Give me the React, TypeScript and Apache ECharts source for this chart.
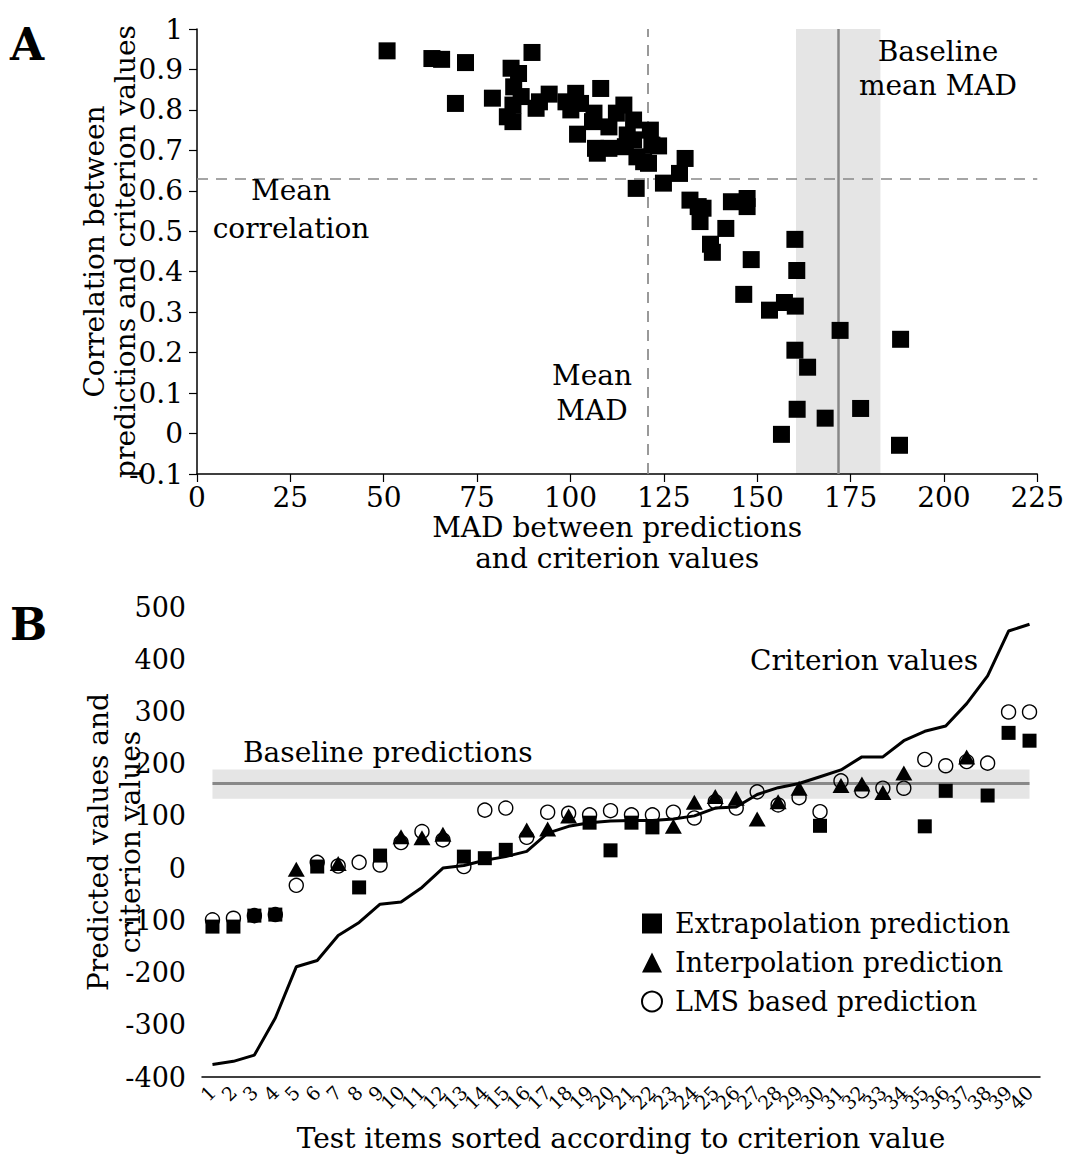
import React, { useEffect, useRef } from "react";
import * as echarts from "echarts";

// Panel A: each test item's MAD vs correlation between predictions and criterion values
const madCorrPoints: [number, number][] = [
  [50.9, 0.946], [62.9, 0.927], [65.5, 0.925], [71.9, 0.917], [69.2, 0.816],
  [79.1, 0.829], [89.7, 0.942], [84.1, 0.903], [86.1, 0.89], [84.8, 0.857],
  [86.8, 0.833], [84.6, 0.812], [83.1, 0.783], [84.6, 0.771], [90.8, 0.804],
  [91.7, 0.82], [94.3, 0.839], [98.8, 0.82], [101.4, 0.841], [100.1, 0.8],
  [102.7, 0.816], [108.1, 0.853], [106.3, 0.792], [101.9, 0.74], [105.9, 0.771],
  [106.7, 0.705], [110.3, 0.705], [107.2, 0.693], [110.3, 0.758], [112.3, 0.792],
  [114.3, 0.812], [116.9, 0.775], [115.2, 0.738], [114.7, 0.709], [116.9, 0.726],
  [117.8, 0.684], [119.6, 0.672], [121.4, 0.75], [121.8, 0.713], [123.6, 0.711],
  [120.9, 0.668], [117.6, 0.606], [124.9, 0.619], [129.2, 0.643], [130.7, 0.68],
  [132.0, 0.577], [134.2, 0.561], [135.5, 0.557], [134.7, 0.524], [143.1, 0.573],
  [147.3, 0.581], [147.3, 0.561], [141.6, 0.507], [137.5, 0.468], [138.0, 0.448],
  [148.4, 0.43], [160.1, 0.48], [160.6, 0.403], [146.4, 0.344], [157.3, 0.324],
  [160.2, 0.315], [153.3, 0.305], [172.2, 0.255], [188.4, 0.233], [160.1, 0.206],
  [163.5, 0.164], [160.7, 0.06], [177.7, 0.062], [168.2, 0.038], [156.5, -0.002],
  [188.1, -0.029],
];
const meanMad = 120.6;
const meanCorrelation = 0.629;
const baselineMeanMad = 171.7;
const baselineMadLow = 160.4;
const baselineMadHigh = 183.0;

const madTicks = { min: 0, max: 225, step: 25 };
const corrTicks = { min: -0.1, max: 1, step: 0.1 };

// Panel B: test items sorted by criterion value
const itemLabels = [
  "1", "2", "3", "4", "5", "6", "7", "8", "9", "10",
  "11", "12", "13", "14", "15", "16", "17", "18", "19", "20",
  "21", "22", "23", "24", "25", "26", "27", "28", "29", "30",
  "31", "32", "33", "34", "35", "36", "37", "38", "39", "40",
];
const criterionValues = [
  -376, -370, -358, -287, -189, -177, -129, -104, -69, -65,
  -37, 0, 5, 15, 22, 32, 67, 80, 87, 90,
  91, 91, 94, 100, 115, 117, 141, 154, 162, 175,
  188, 213, 213, 244, 262, 272, 315, 368, 454, 467,
];
const extrapolation = [
  -112, -112, -91, -89, null, 3, null, -37, 24, null,
  null, null, 22, 19, 35, null, null, null, 87, 34,
  87, 78, null, null, null, null, null, null, null, 81,
  null, null, null, null, 80, 148, null, 139, 259, 244,
];
const interpolation = [
  null, null, null, null, -2, null, 9, null, null, 60,
  58, 65, null, null, null, 73, 75, 100, null, null,
  null, null, 80, 126, 137, 134, 94, 127, 153, null,
  158, 161, 145, 182, null, null, 213, null, null, null,
];
const lmsBased = [
  -99, -96, -91, -89, -33, 11, 4, 11, 6, 49,
  70, 54, 3, 111, 115, 59, 107, 105, 102, 110,
  102, 102, 107, 96, 127, 115, 146, 121, 135, 108,
  167, 148, 153, 153, 208, 196, 204, 201, 299, 299,
];
const baselinePrediction = 162.5;
const baselinePredLow = 133;
const baselinePredHigh = 189;

const predTicks = { min: -400, max: 500, step: 100 };

const FONT = "DejaVu Serif";
const GREY = "#888888";
const BAND = "#e5e5e5";
const txt = (size: number) => ({ fontFamily: FONT, fontSize: size, color: "#000" });

const axisLine = { onZero: false, lineStyle: { color: "#000", width: 1.5 } };
const axisTick = { length: 8, lineStyle: { color: "#000", width: 1.2 } };
const solidBlack = { color: "#000", opacity: 1 };

function buildOption() {
  const dashed = { type: [11, 8] as number[], color: GREY, width: 1.7 };
  const note = (text: string, x: number, y: number, align: string, lineHeight = 34) => ({
    type: "text",
    x,
    y,
    z: 100,
    style: { text, fontFamily: FONT, fontSize: 28, lineHeight, fill: "#000", align, verticalAlign: "middle" },
  });
  return {
    animation: false,
    backgroundColor: "#fff",
    textStyle: { fontFamily: FONT },
    grid: [
      { left: 197, top: 29, width: 846, height: 445 },
      { left: 202, top: 607, width: 838, height: 470 },
    ],
    xAxis: [
      {
        gridIndex: 0,
        type: "value",
        min: madTicks.min,
        max: madTicks.max,
        interval: madTicks.step,
        name: "MAD between predictions\nand criterion values",
        nameLocation: "middle",
        nameGap: 38,
        nameMoveOverlap: false,
        nameTextStyle: { ...txt(28), lineHeight: 31 },
        axisLine,
        axisTick,
        axisLabel: { ...txt(28), margin: 9 },
        splitLine: { show: false },
      },
      {
        gridIndex: 1,
        type: "category",
        data: itemLabels,
        boundaryGap: true,
        name: "Test items sorted according to criterion value",
        nameLocation: "middle",
        nameGap: 46,
        nameMoveOverlap: false,
        nameTextStyle: { ...txt(28), lineHeight: 31 },
        axisLine,
        axisTick: { show: false },
        axisLabel: { ...txt(19), rotate: 45, interval: 0, margin: 12 },
        splitLine: { show: false },
      },
    ],
    yAxis: [
      {
        gridIndex: 0,
        type: "value",
        min: corrTicks.min,
        max: corrTicks.max,
        interval: corrTicks.step,
        name: "Correlation between\npredictions and criterion values",
        nameLocation: "middle",
        nameGap: 56,
        nameMoveOverlap: false,
        nameTextStyle: { ...txt(28), lineHeight: 31 },
        axisLine,
        axisTick,
        axisLabel: {
          ...txt(28),
          margin: 14,
          formatter: (v: number) => String(Math.round(v * 10) / 10),
        },
        splitLine: { show: false },
      },
      {
        gridIndex: 1,
        type: "value",
        min: predTicks.min,
        max: predTicks.max,
        interval: predTicks.step,
        name: "Predicted values and\ncriterion values",
        nameLocation: "middle",
        nameGap: 56,
        nameMoveOverlap: false,
        nameTextStyle: { ...txt(28), lineHeight: 32 },
        axisLine,
        axisTick,
        axisLabel: { ...txt(27), margin: 16 },
        splitLine: { show: false },
      },
    ],
    legend: {
      data: ["Extrapolation prediction", "Interpolation prediction", "LMS based prediction"],
      orient: "vertical",
      left: 636,
      top: 905,
      itemWidth: 20,
      itemHeight: 20,
      itemGap: 12,
      selectedMode: false,
      textStyle: { ...txt(27), padding: [0, 0, 0, 8] },
    },
    series: [
      {
        name: "MAD vs correlation",
        type: "scatter",
        xAxisIndex: 0,
        yAxisIndex: 0,
        data: madCorrPoints,
        symbol: "rect",
        symbolSize: 17,
        itemStyle: solidBlack,
        z: 3,
        markArea: {
          silent: true,
          z: 0,
          itemStyle: { color: BAND, opacity: 1 },
          data: [[{ xAxis: baselineMadLow }, { xAxis: baselineMadHigh }]],
        },
        markLine: {
          silent: true,
          z: 1,
          symbol: "none",
          label: { show: false },
          data: [
            { xAxis: meanMad, lineStyle: dashed },
            { yAxis: meanCorrelation, lineStyle: dashed },
            { xAxis: baselineMeanMad, lineStyle: { type: "solid", color: GREY, width: 2.5 } },
          ],
        },
      },
      {
        name: "Criterion values",
        type: "line",
        xAxisIndex: 1,
        yAxisIndex: 1,
        data: criterionValues,
        symbol: "none",
        lineStyle: { color: "#000", width: 3 },
        z: 2,
        markArea: {
          silent: true,
          z: 0,
          itemStyle: { color: BAND, opacity: 1 },
          data: [[{ coord: [0, baselinePredHigh] }, { coord: [39, baselinePredLow] }]],
        },
        markLine: {
          silent: true,
          z: 1,
          symbol: "none",
          label: { show: false },
          lineStyle: { type: "solid", color: GREY, width: 3 },
          data: [[{ coord: [0, baselinePrediction] }, { coord: [39, baselinePrediction] }]],
        },
      },
      {
        name: "LMS based prediction",
        type: "scatter",
        xAxisIndex: 1,
        yAxisIndex: 1,
        data: lmsBased,
        symbol: "circle",
        symbolSize: 14,
        itemStyle: { color: "rgba(255,255,255,0)", borderColor: "#000", borderWidth: 1.4, opacity: 1 },
        z: 3,
      },
      {
        name: "Interpolation prediction",
        type: "scatter",
        xAxisIndex: 1,
        yAxisIndex: 1,
        data: interpolation,
        symbol: "triangle",
        symbolSize: [17, 15],
        itemStyle: solidBlack,
        z: 4,
      },
      {
        name: "Extrapolation prediction",
        type: "scatter",
        xAxisIndex: 1,
        yAxisIndex: 1,
        data: extrapolation,
        symbol: "rect",
        symbolSize: 14,
        itemStyle: solidBlack,
        z: 5,
      },
    ],
    graphic: [
      { type: "text", x: 10, y: 22, z: 100, style: { text: "A", fontFamily: FONT, fontSize: 44, fontWeight: "bold", fill: "#000" } },
      { type: "text", x: 10, y: 602, z: 100, style: { text: "B", fontFamily: FONT, fontSize: 44, fontWeight: "bold", fill: "#000" } },
      note("Mean\ncorrelation", 291, 209, "center", 38),
      note("Mean\nMAD", 592, 393, "center", 35),
      note("Baseline\nmean MAD", 938, 68, "center", 34),
      note("Baseline predictions", 243, 752, "left"),
      note("Criterion values", 750, 660, "left"),
    ],
  };
}

export default function App() {
  const ref = useRef<HTMLDivElement>(null);
  useEffect(() => {
    if (!ref.current) return;
    const chart = echarts.init(ref.current, null, { renderer: "svg" });
    chart.setOption(buildOption() as any);
    return () => chart.dispose();
  }, []);
  return (
    <div
      ref={ref}
      style={{ position: "fixed", left: 0, top: 0, width: 1067, height: 1156, background: "#fff" }}
    />
  );
}
